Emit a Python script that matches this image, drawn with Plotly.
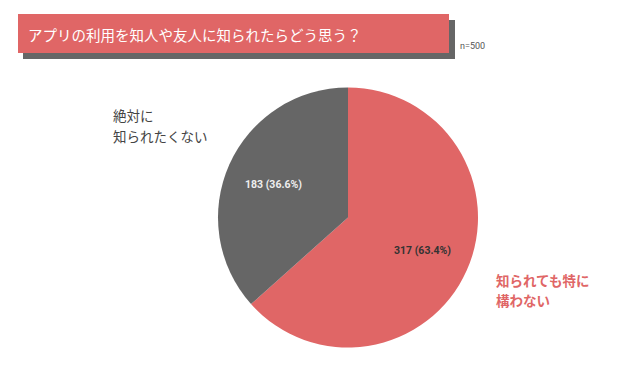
import math
import plotly.graph_objects as go

labels = ["知られても特に構わない", "絶対に知られたくない"]
counts = [317, 183]
slice_colors = ["#E06666", "#666666"]
text_colors = ["#333333", "#EEEEEE"]
title_text = "アプリの利用を知人や友人に知られたらどう思う？"
n_text = "n=500"
label_lines_left = ["絶対に", "知られたくない"]
label_lines_right = ["知られても特に", "構わない"]

W, H = 623, 391
OFF = 8  # page body margin offset
def px(x): return (x - OFF) / W
def py(y): return 1 - (y - OFF) / H

# pie geometry (in reference pixels)
CX, CY, R = 348, 217.5, 130

fig = go.Figure(go.Pie(
    labels=labels, values=counts, sort=False, direction="clockwise", rotation=0,
    marker=dict(colors=slice_colors, line=dict(width=0)),
    textinfo="none",
    domain=dict(x=[px(CX - R), px(CX + R)], y=[py(CY + R), py(CY - R)]),
    showlegend=False, hoverinfo="label+value+percent",
))

shapes = [
    dict(type="rect", xref="paper", yref="paper", x0=px(23), x1=px(455), y0=py(59), y1=py(20),
         fillcolor="#666666", line=dict(width=0), layer="below"),
    dict(type="rect", xref="paper", yref="paper", x0=px(18), x1=px(449), y0=py(53), y1=py(14),
         fillcolor="#E06666", line=dict(width=0), layer="below"),
]
annotations = [
    dict(text=title_text, xref="paper", yref="paper", x=px(26), y=py(34), xanchor="left", yanchor="middle",
         showarrow=False, font=dict(size=14.5, color="white", family="Noto Sans CJK JP")),
    dict(text=n_text, xref="paper", yref="paper", x=px(458), y=py(46), xanchor="left", yanchor="middle",
         showarrow=False, font=dict(size=9, color="#555555", family="Roboto")),
]
for i, line in enumerate(label_lines_left):
    annotations.append(dict(text=line, xref="paper", yref="paper", x=px(111), y=py(115 + 21 * i),
                            xanchor="left", yanchor="middle", showarrow=False,
                            font=dict(size=13.5, color="#444444", family="Noto Sans CJK JP")))
for i, line in enumerate(label_lines_right):
    annotations.append(dict(text=line, xref="paper", yref="paper", x=px(494), y=py(280 + 20 * i),
                            xanchor="left", yanchor="middle", showarrow=False,
                            font=dict(size=13.5, color="#E06666", family="Noto Sans CJK JP",
                                      weight="bold")))

# value labels placed at each slice's mid-angle
total = sum(counts)
cum = 0
for v, c in zip(counts, text_colors):
    mid = (cum + v / 2) / total * 2 * math.pi
    cum += v
    tx = CX + 0.63 * R * math.sin(mid)
    ty = CY - 0.63 * R * math.cos(mid)
    annotations.append(dict(text=f"{v} ({v / total * 100:.1f}%)", xref="paper", yref="paper",
                            x=px(tx), y=py(ty), xanchor="center", yanchor="middle", showarrow=False,
                            font=dict(size=10.5, color=c, family="Roboto", weight="bold")))

fig.update_layout(width=W, height=H, margin=dict(l=0, r=0, t=0, b=0),
                  paper_bgcolor="white", plot_bgcolor="white",
                  shapes=shapes, annotations=annotations)
fig.write_html("out.html")
